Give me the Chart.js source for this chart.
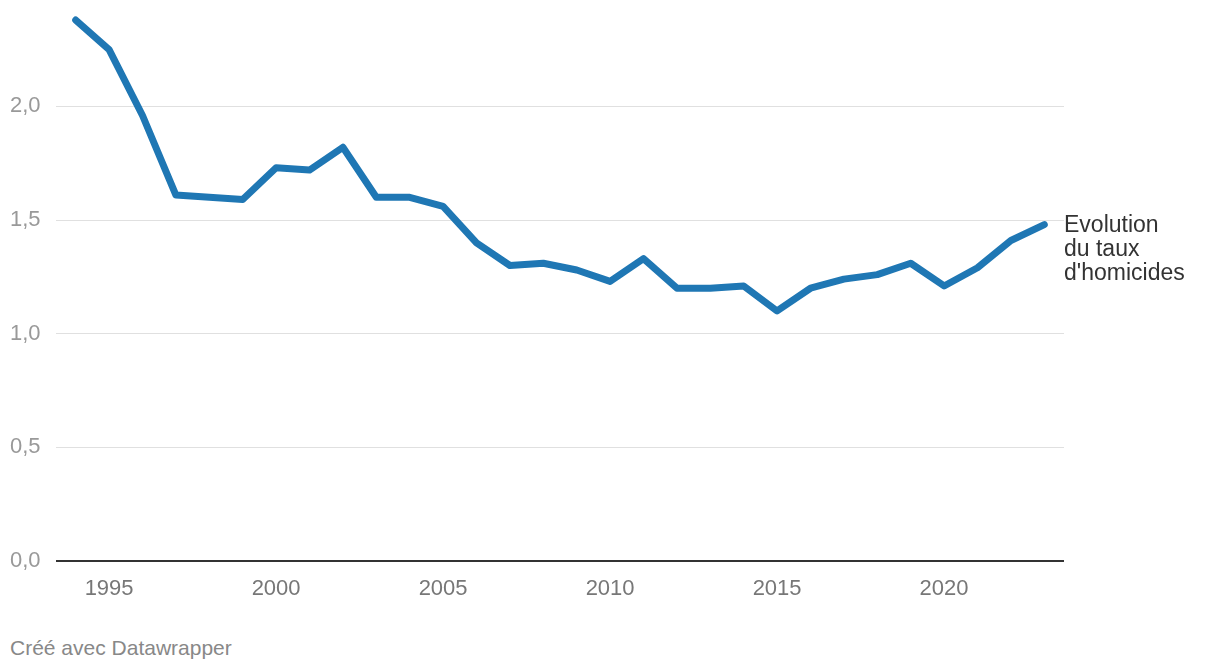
<!DOCTYPE html>
<html>
<head>
<meta charset="utf-8">
<script src="https://cdn.jsdelivr.net/npm/chart.js@4"></script>
<style>
  body{ margin:0; background:#fff; font-family:"Liberation Sans", Arial, sans-serif; }
  #wrap{ position:relative; width:1220px; height:600px; }
  #note{ position:absolute; left:10px; top:636px; font-size:21px; color:#888; }
</style>
</head>
<body>
<div id="wrap"><canvas id="c"></canvas></div>
<div id="note">Créé avec Datawrapper</div>
<script>
const years = [1994,1995,1996,1997,1998,1999,2000,2001,2002,2003,2004,2005,2006,2007,2008,
  2009,2010,2011,2012,2013,2014,2015,2016,2017,2018,2019,2020,2021,2022,2023];
const taux = [2.38,2.25,1.96,1.61,1.60,1.59,1.73,1.72,1.82,1.60,1.60,1.56,1.40,1.30,1.31,
  1.28,1.23,1.33,1.20,1.20,1.21,1.10,1.20,1.24,1.26,1.31,1.21,1.29,1.41,1.48];
const xTicks = [1995,2000,2005,2010,2015,2020];
const yTicks = [0,0.5,1,1.5,2];
const serieLabel = ["Evolution","du taux","d'homicides"];

// étiquette à droite de la dernière valeur
const endLabel = {
  id:"endLabel",
  afterDatasetsDraw(chart){
    const pts = chart.getDatasetMeta(0).data;
    const p = pts[pts.length-1];
    const ctx = chart.ctx;
    ctx.save();
    ctx.font = "23px 'Liberation Sans', Arial, sans-serif";
    ctx.fillStyle = "#333";
    ctx.textAlign = "left";
    ctx.textBaseline = "middle";
    serieLabel.forEach((t,i)=> ctx.fillText(t, chart.chartArea.right, p.y + 1 + i*24));
    ctx.restore();
  }
};

new Chart(document.getElementById("c"), {
  type:"line",
  data:{ datasets:[{
    data: years.map((y,i)=>({x:y, y:taux[i]})),
    borderColor:"#1f77b4", borderWidth:7, pointRadius:0, tension:0,
    borderCapStyle:"round", borderJoinStyle:"round"
  }]},
  options:{
    responsive:true, maintainAspectRatio:false, animation:false,
    layout:{ padding:{ top:0, left:10, right:156, bottom:0 } },
    plugins:{ legend:{display:false}, tooltip:{enabled:false} },
    scales:{
      x:{
        type:"linear", min:1993.41, max:2023.59,
        afterBuildTicks: ax => { ax.ticks = xTicks.map(v=>({value:v})); },
        afterFit: ax => { ax.height = 39; },
        grid:{ display:false, drawTicks:false }, border:{ display:false },
        ticks:{ color:"#777", font:{ size:22, family:"'Liberation Sans', Arial, sans-serif" }, padding:15,
          callback: v => String(v), maxRotation:0 }
      },
      y:{
        min:0, max:2.41,
        afterBuildTicks: ax => { ax.ticks = yTicks.map(v=>({value:v})); },
        afterFit: ax => { ax.width = 46; },
        border:{ display:false },
        grid:{ drawTicks:false,
          color: c => c.tick && c.tick.value === 0 ? "#333" : "#e0e0e0",
          lineWidth: c => c.tick && c.tick.value === 0 ? 2 : 1 },
        ticks:{ color:"#999", font:{ size:22, family:"'Liberation Sans', Arial, sans-serif" },
          crossAlign:"far", padding:0,
          callback: v => v.toFixed(1).replace(".", ",") }
      }
    }
  },
  plugins:[endLabel]
});
</script>
</body>
</html>
